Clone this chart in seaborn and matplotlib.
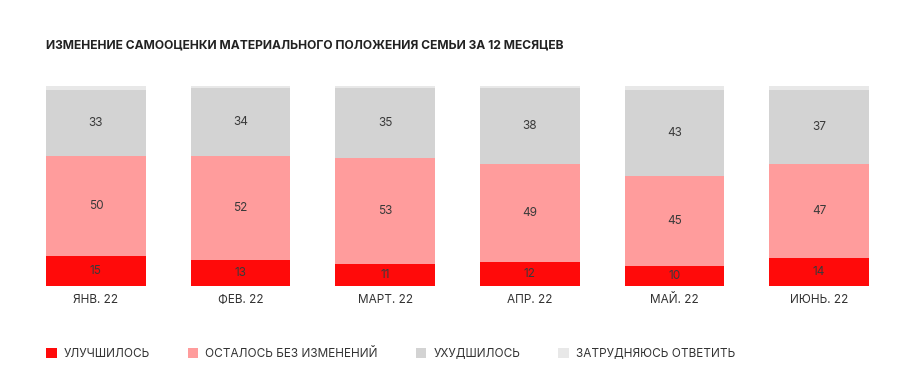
import numpy as np
import pandas as pd
import matplotlib
matplotlib.use("Agg")
import matplotlib.pyplot as plt
import seaborn as sns
from matplotlib.patches import Patch

months = ["ЯНВ. 22", "ФЕВ. 22", "МАРТ. 22", "АПР. 22", "МАЙ. 22", "ИЮНЬ. 22"]
improved = [15, 13, 11, 12, 10, 14]
unchanged = [50, 52, 53, 49, 45, 47]
worse = [33, 34, 35, 38, 43, 37]
hard = [2, 1, 1, 1, 2, 2]

series_names = ["УЛУЧШИЛОСЬ", "ОСТАЛОСЬ БЕЗ ИЗМЕНЕНИЙ", "УХУДШИЛОСЬ", "ЗАТРУДНЯЮСЬ ОТВЕТИТЬ"]
colors = ["#ff0a0a", "#ff9c9c", "#d3d3d3", "#e8e8e8"]
title = "ИЗМЕНЕНИЕ САМООЦЕНКИ МАТЕРИАЛЬНОГО ПОЛОЖЕНИЯ СЕМЬИ ЗА 12 МЕСЯЦЕВ"

sns.set_style("white")
plt.rcParams['font.family'] = ['Inter', 'DejaVu Sans']

layers = [improved, unchanged, worse, hard]
cum = np.cumsum(np.array(layers), axis=0)
df = pd.DataFrame({"month": months})

fig = plt.figure(figsize=(9.18, 3.91), dpi=100)
ax = fig.add_axes([46 / 918, 105 / 391, 823 / 918, 200 / 391])

# draw from the top layer down so each bar hides the part below it
for i in range(len(layers) - 1, -1, -1):
    df["val"] = cum[i]
    sns.barplot(data=df, x="month", y="val", color=colors[i], saturation=1,
                width=0.69, ax=ax, linewidth=0)

# segment labels (skip the thin top layer)
for i in range(3):
    for j, m in enumerate(months):
        y = cum[i][j] - layers[i][j] / 2
        ax.text(j, y, str(layers[i][j]), ha="center", va="center",
                fontsize=8.5, color="#3a3a3a")

ax.set_xlim(-0.345, 5.345)
ax.set_ylim(0, 100)
ax.set_xlabel("")
ax.set_ylabel("")
ax.set_yticks([])
ax.tick_params(axis="x", length=0, pad=6, labelsize=8.5, labelcolor="#333333")
sns.despine(ax=ax, left=True, bottom=True)

fig.text(46 / 918, 1 - 45 / 391, title, fontsize=8.7, fontweight="bold",
         color="#222222", va="center", ha="left")

handles = [Patch(facecolor=c, edgecolor="none") for c in colors]
leg = ax.legend(handles, series_names, ncol=4, loc="center left",
                bbox_to_anchor=(0, -0.34), frameon=False, fontsize=8.5,
                handlelength=0.9, handleheight=0.9, handletextpad=0.6,
                columnspacing=3.2, borderaxespad=0, borderpad=0)
for t in leg.get_texts():
    t.set_color("#333333")

fig.savefig("out.png", dpi=100)
